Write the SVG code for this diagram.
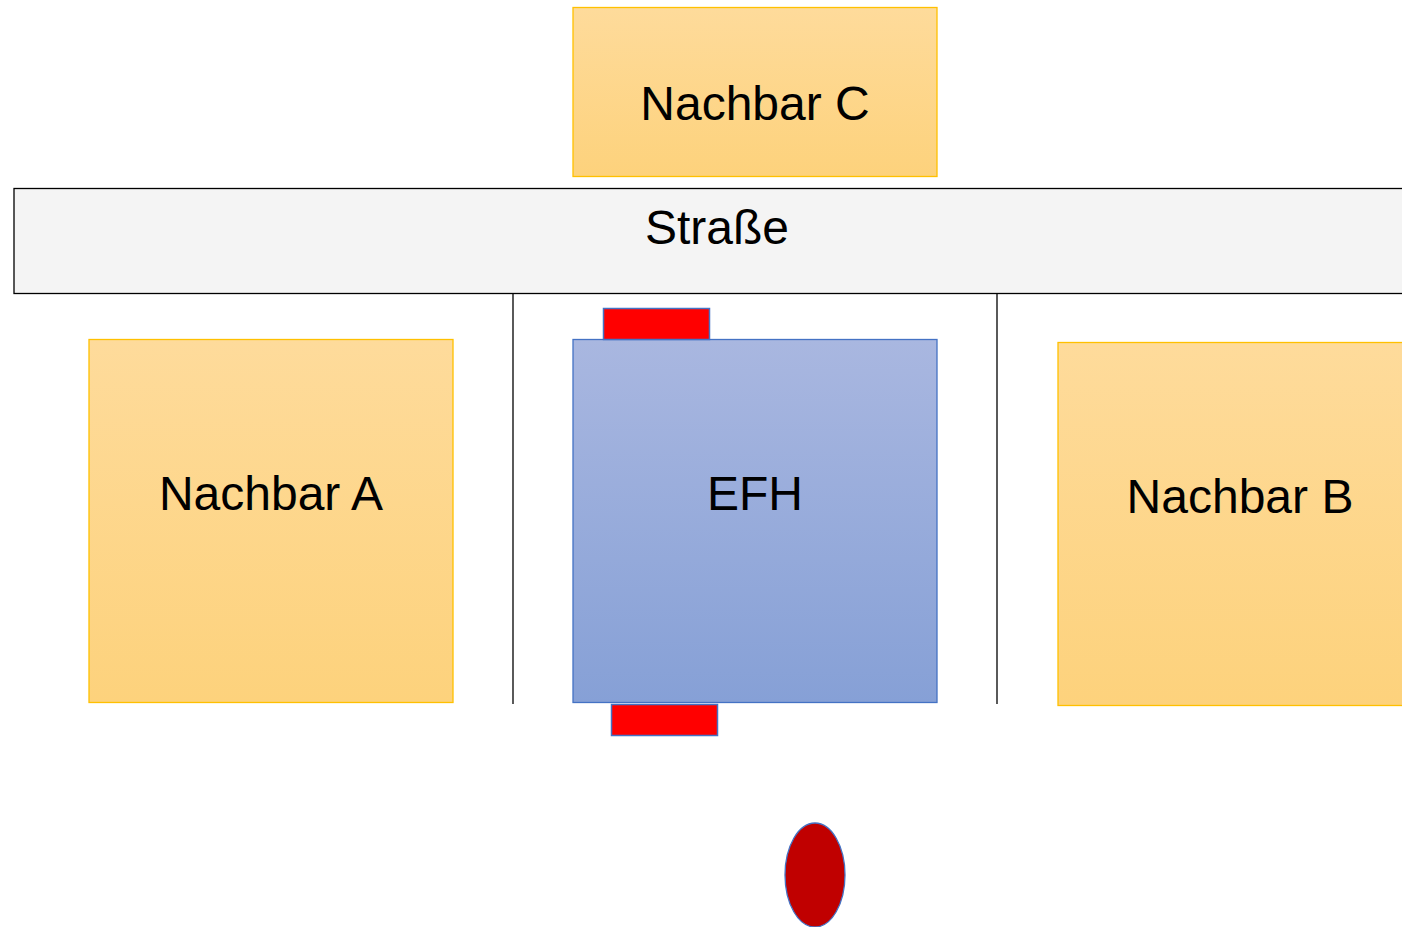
<svg xmlns="http://www.w3.org/2000/svg" width="1402" height="927" viewBox="0 0 1402 927">
<style>
.lbl{font-family:"Liberation Sans",Arial,sans-serif;font-size:48px;fill:#000;text-anchor:middle}
.nb{fill:url(#gy);stroke:#ffc000;stroke-width:1.3}
.win{fill:#ff0000;stroke:#4472c4;stroke-width:1.5}
.sep{stroke:#000;stroke-width:1.3}
</style>
<defs>
<linearGradient id="gy" x1="0" y1="0" x2="0" y2="1"><stop offset="0" stop-color="#fedb9b"/><stop offset="1" stop-color="#fdd27c"/></linearGradient>
<linearGradient id="gb" x1="0" y1="0" x2="0" y2="1"><stop offset="0" stop-color="#a9b7e0"/><stop offset="1" stop-color="#86a0d6"/></linearGradient>
</defs>
<rect width="1402" height="927" fill="#fff"/>
<g id="strasse"><rect x="14" y="188.5" width="1400" height="105" fill="#f4f4f4" stroke="#000" stroke-width="1.3"/><text class="lbl" x="717" y="244">Straße</text></g>
<g id="connectors"><line class="sep" x1="513" y1="294" x2="513" y2="704"/><line class="sep" x1="997" y1="294" x2="997" y2="704"/></g>
<g id="nachbarC"><rect class="nb" x="573" y="7.5" width="364" height="169"/><text class="lbl" x="755" y="120">Nachbar C</text></g>
<g id="nachbarA"><rect class="nb" x="89" y="339.5" width="364" height="363"/><text class="lbl" x="271" y="510">Nachbar A</text></g>
<g id="efh"><rect x="573" y="339.5" width="364" height="363" fill="url(#gb)" stroke="#4472c4" stroke-width="1.3"/><text class="lbl" x="755" y="510">EFH</text></g>
<g id="nachbarB"><rect class="nb" x="1058" y="342.5" width="360" height="363"/><text class="lbl" x="1240" y="513">Nachbar B</text></g>
<g id="fensterOben"><rect class="win" x="603.5" y="308.5" width="106" height="31"/></g>
<g id="fensterUnten"><rect class="win" x="611.5" y="704.5" width="106" height="31"/></g>
<g id="punkt"><ellipse cx="815" cy="875" rx="30" ry="52" fill="#c00000" stroke="#4472c4" stroke-width="1.3"/></g>
</svg>
